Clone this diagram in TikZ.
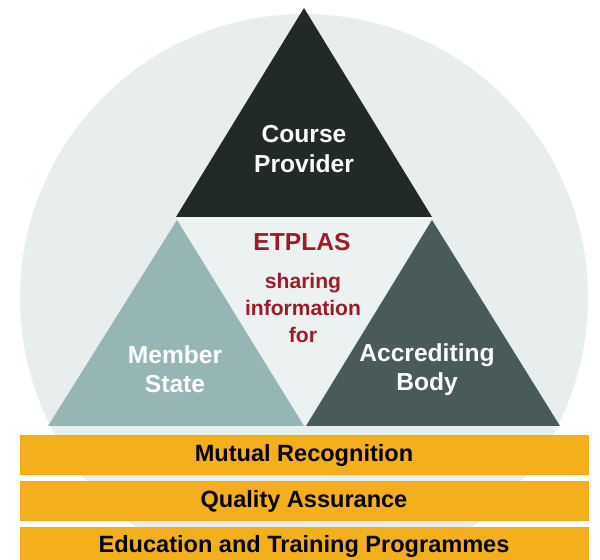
\documentclass[tikz,border=0pt]{standalone}
\usepackage{fontspec}
\setmainfont{Liberation Sans}
\usetikzlibrary{positioning}
\definecolor{circlegray}{HTML}{E8EEEE}
\definecolor{centergray}{HTML}{ECF1F1}
\definecolor{topdark}{HTML}{222A28}
\definecolor{leftteal}{HTML}{96B6B6}
\definecolor{rightslate}{HTML}{485B59}
\definecolor{bandorange}{HTML}{F4B01C}
\definecolor{etplasred}{HTML}{9E1B2A}

\begin{document}
\begin{tikzpicture}[x=0.02cm,y=-0.02cm,node distance=0.12cm,
   lbl/.style={text=white,font=\bfseries\fontsize{14}{17}\selectfont,align=center},
   info/.style={text=etplasred,font=\bfseries\fontsize{12}{15.3}\selectfont,align=center},
   band/.style={fill=bandorange,draw=bandorange!90!orange,line width=0.4pt,
      minimum width=11.36cm,minimum height=0.78cm,inner sep=0pt,
      font=\bfseries\fontsize{13.4}{15}\selectfont,text height=0.72em,text depth=0pt}]
   \useasboundingbox (0,0) rectangle (600,560);
   % background circle
   \begin{scope}
      \clip (0,0) rectangle (600,560);
      \fill[circlegray] (304,298) circle[radius=5.68cm];
   \end{scope}
   % triangles
   \fill[centergray] (177,218) -- (432,218) -- (304,426) -- cycle;
   \fill[topdark] (304,8) -- (176,217) -- (432,217) -- cycle;
   \draw[white,line width=1pt] (178,218.5) -- (431,218.5);
   \fill[leftteal] (177,220) -- (48,426) -- (304,426) -- cycle;
   \fill[rightslate] (432,220) -- (306,426) -- (560,426) -- cycle;
   % labels
   \node[lbl] (provider) at (304,149) {Course\\Provider};
   \node[lbl,font=\bfseries\fontsize{14}{16.5}\selectfont] (member) at (175,369) {Member\\State};
   \node[lbl,font=\bfseries\fontsize{14}{16.5}\selectfont] (accrediting) at (427,370) {Accrediting\\Body};
   \node[info,font=\bfseries\fontsize{14}{17}\selectfont] (etplas) at (302,242) {ETPLAS};
   \node[info] (sharing) at (303,308) {sharing\\information\\for};
   % bands
   \node[band] (mutual) at (304,455) {Mutual Recognition};
   \node[band] (quality) [below=of mutual] {Quality Assurance};
   \node[band] (education) [below=of quality] {Education and Training Programmes};
\end{tikzpicture}
\end{document}
